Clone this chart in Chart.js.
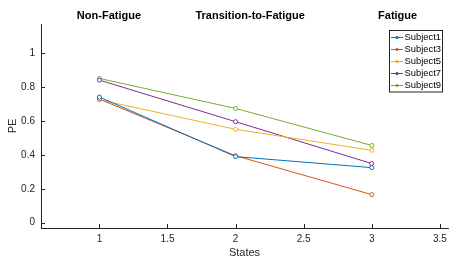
<!DOCTYPE html>
<html>
<head>
<meta charset="utf-8">
<script src="https://cdn.jsdelivr.net/npm/chart.js@4/dist/chart.umd.min.js"></script>
<style>
  html, body { margin: 0; padding: 0; background: #fff; }
  canvas { display: block; }
</style>
</head>
<body>
<canvas id="pe-chart" width="475" height="263"></canvas>
<script>
// States on the x axis
const states = [1, 2, 3];

// PE per subject, one value per state
const subject1 = [0.741, 0.390, 0.325];
const subject3 = [0.729, 0.395, 0.166];
const subject5 = [0.725, 0.551, 0.427];
const subject7 = [0.841, 0.596, 0.349];
const subject9 = [0.851, 0.674, 0.456];

const subjectNames = ['Subject1', 'Subject3', 'Subject5', 'Subject7', 'Subject9'];
const subjectValues = [subject1, subject3, subject5, subject7, subject9];
const subjectColors = ['#0072BD', '#D95319', '#EDB120', '#7E2F8E', '#77AC30'];

// Tick labels
const xTicks = [1, 1.5, 2, 2.5, 3, 3.5];
const yTicks = [0, 0.2, 0.4, 0.6, 0.8, 1];

// Phase labels above the plot, placed at these state values
const phaseLabels = ['Non-Fatigue', 'Transition-to-Fatigue', 'Fatigue'];
const phaseAt = [1.07, 2.107, 3.19];

const FONT = '"Liberation Sans", Arial, Helvetica, sans-serif';
const INK = '#262626';

// MATLAB-like inward tick marks
const inwardTicks = {
  id: 'inwardTicks',
  afterDraw(chart) {
    const ctx = chart.ctx;
    const x = chart.scales.x, y = chart.scales.y;
    ctx.save();
    ctx.strokeStyle = INK;
    ctx.lineWidth = 1;
    ctx.beginPath();
    x.ticks.forEach(t => {
      const px = Math.round(x.getPixelForValue(t.value)) + 0.5;
      ctx.moveTo(px, y.bottom);
      ctx.lineTo(px, y.bottom - 4);
    });
    y.ticks.forEach(t => {
      const py = Math.round(y.getPixelForValue(t.value)) + 0.5;
      ctx.moveTo(x.left, py);
      ctx.lineTo(x.left + 4, py);
    });
    ctx.stroke();
    ctx.restore();
  }
};

// Bold phase titles over the plot
const phaseTitles = {
  id: 'phaseTitles',
  afterDraw(chart) {
    const ctx = chart.ctx;
    const x = chart.scales.x;
    ctx.save();
    ctx.font = 'bold 11px ' + FONT;
    ctx.fillStyle = '#000';
    ctx.textAlign = 'center';
    ctx.textBaseline = 'middle';
    phaseLabels.forEach((txt, i) => {
      ctx.fillText(txt, x.getPixelForValue(phaseAt[i]), 16);
    });
    ctx.restore();
  }
};

// Boxed legend in the upper right corner of the plot
const boxLegend = {
  id: 'boxLegend',
  afterDraw(chart) {
    const ctx = chart.ctx;
    const area = chart.chartArea;
    const sets = chart.data.datasets;
    const rowH = 12;
    const w = 53, h = sets.length * rowH + 1.5;
    const left = area.right - 59, top = area.top + 6;
    ctx.save();
    ctx.fillStyle = '#fff';
    ctx.fillRect(left, top, w, h);
    ctx.strokeStyle = INK;
    ctx.lineWidth = 1;
    ctx.strokeRect(left + 0.5, top + 0.5, w, h);
    ctx.font = '9.4px ' + FONT;
    ctx.textBaseline = 'middle';
    sets.forEach((ds, i) => {
      const cy = top + 7.5 + i * rowH;
      ctx.strokeStyle = ds.borderColor;
      ctx.beginPath();
      ctx.moveTo(left + 2, cy);
      ctx.lineTo(left + 14, cy);
      ctx.stroke();
      ctx.beginPath();
      ctx.arc(left + 8, cy, 1.6, 0, 2 * Math.PI);
      ctx.fillStyle = ds.borderColor;
      ctx.fill();
      ctx.fillStyle = '#000';
      ctx.fillText(ds.label, left + 15.5, cy);
    });
    ctx.restore();
  }
};

new Chart(document.getElementById('pe-chart'), {
  type: 'line',
  data: {
    datasets: subjectNames.map((name, i) => ({
      label: name,
      data: states.map((s, j) => ({ x: s, y: subjectValues[i][j] })),
      borderColor: subjectColors[i],
      backgroundColor: '#ffffff',
      borderWidth: 1,
      pointRadius: 2,
      pointBorderWidth: 1,
      pointBackgroundColor: '#ffffff',
      pointBorderColor: subjectColors[i],
      tension: 0
    }))
  },
  options: {
    responsive: false,
    animation: false,
    layout: { padding: { top: 24, right: 27, left: 0, bottom: 0 } },
    plugins: {
      legend: { display: false },
      tooltip: { enabled: false }
    },
    scales: {
      x: {
        type: 'linear',
        min: 0.571,
        max: 3.56,
        afterBuildTicks: s => { s.ticks = xTicks.map(v => ({ value: v })); },
        afterFit: s => { s.height = 35; },
        grid: { drawOnChartArea: false, drawTicks: false },
        border: { display: true, color: INK, width: 1 },
        ticks: {
          color: INK,
          padding: 5,
          maxRotation: 0,
          font: { family: FONT, size: 10 },
          callback: v => String(v)
        },
        title: {
          display: true,
          text: 'States',
          color: INK,
          padding: { top: 0, bottom: 3 },
          font: { family: FONT, size: 11 }
        }
      },
      y: {
        type: 'linear',
        min: -0.031,
        max: 1.172,
        afterBuildTicks: s => { s.ticks = yTicks.map(v => ({ value: v })); },
        afterFit: s => { s.width = 41; },
        grid: { drawOnChartArea: false, drawTicks: false },
        border: { display: true, color: INK, width: 1 },
        ticks: {
          color: INK,
          padding: 6,
          font: { family: FONT, size: 10 },
          callback: v => String(v)
        },
        title: {
          display: true,
          text: 'PE',
          color: INK,
          padding: { top: 6, bottom: 0 },
          font: { family: FONT, size: 11 }
        }
      }
    }
  },
  plugins: [inwardTicks, phaseTitles, boxLegend]
});
</script>
</body>
</html>
